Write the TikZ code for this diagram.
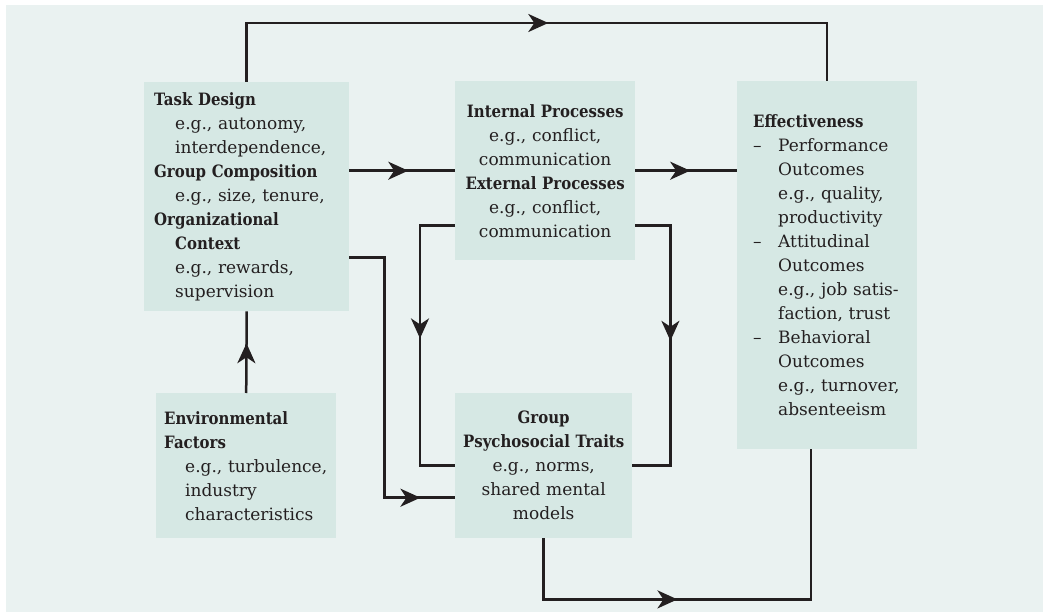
\documentclass[tikz,border=0pt]{standalone}
\usepackage{fontspec}
\setmainfont{DejaVu Serif}[BoldFeatures={FakeStretch=0.88}]
\usetikzlibrary{arrows.meta,decorations.markings}
\definecolor{bgback}{RGB}{234,242,241}
\definecolor{boxfill}{RGB}{214,232,228}
\definecolor{ink}{RGB}{35,31,32}
\begin{document}
\begin{tikzpicture}[x=1pt,y=-1pt,
  box/.style={fill=boxfill,anchor=north west,inner xsep=10pt,inner ysep=0pt,
    font=\fontsize{17}{24}\selectfont,text=ink},
  arr/.style={line width=2.5pt,color=ink,
    decoration={markings,mark=at position #1 with {\arrow{Stealth[length=20pt,width=18pt,inset=6pt]}}},
    postaction={decorate}}]
\useasboundingbox (0,0) rectangle (1043,612);
\fill [bgback] (6,5) rectangle (1043,612);

\node (task) at (144,82) [box,text width=185pt,minimum height=229pt,align=left]
  {\textbf{Task Design}\\ \hspace*{21pt}e.g., autonomy,\\ \hspace*{21pt}interdependence,\\
   \textbf{Group Composition}\\ \hspace*{21pt}e.g., size, tenure,\\ \textbf{Organizational}\\
   \hspace*{21pt}\textbf{Context}\\ \hspace*{21pt}e.g., rewards,\\ \hspace*{21pt}supervision};
\node (proc) at (455,81) [box,inner xsep=4pt,text width=172pt,minimum height=179pt,align=center]
  {\textbf{Internal Processes}\\ e.g., conflict,\\ communication\\
   \textbf{External Processes}\\ e.g., conflict,\\ communication};
\node (eff) at (737,81) [box,inner xsep=16pt,text width=148pt,minimum height=368pt,align=left]
  {\textbf{Effectiveness}\\
   \makebox[25pt][l]{–}Performance\\ \hspace*{25pt}Outcomes\\ \hspace*{25pt}e.g., quality,\\ \hspace*{25pt}productivity\\
   \makebox[25pt][l]{–}Attitudinal\\ \hspace*{25pt}Outcomes\\ \hspace*{25pt}e.g., job satis-\\ \hspace*{25pt}faction, trust\\
   \makebox[25pt][l]{–}Behavioral\\ \hspace*{25pt}Outcomes\\ \hspace*{25pt}e.g., turnover,\\ \hspace*{25pt}absenteeism};
\node (env) at (156,393) [box,inner xsep=8pt,text width=164pt,minimum height=145pt,align=left]
  {\textbf{Environmental}\\ \textbf{Factors}\\ \hspace*{21pt}e.g., turbulence,\\
   \hspace*{21pt}industry\\ \hspace*{21pt}characteristics};
\node (grp) at (455,393) [box,inner xsep=4pt,text width=169pt,minimum height=145pt,align=center]
  {\textbf{Group}\\ \textbf{Psychosocial Traits}\\ e.g., norms,\\ shared mental\\ models};

\draw [arr=0.517] (task.north) -- ++(0,-59) -| (eff.north);
\draw [arr=0.557] (proc.west -| task.east) -- (proc.west);
\draw [arr=0.539] (proc.east) -- (proc.east -| eff.west);
\draw [arr=0.477] ([yshift=35pt]proc.south west) -- ++(-35,0) |- (grp.west);
\draw [arr=0.48] ([yshift=35pt]proc.south east) -- ++(35,0) |- (grp.east);
\draw [arr=0.9] ([yshift=54pt]task.south east) -- ++(35,0) |- ([yshift=-32pt]grp.west);
\draw [arr=0.61] (env.north) -- (task.south);
\draw [arr=0.407] (grp.south) -- ++(0,61) -| ([xshift=-16pt]eff.south);
\end{tikzpicture}
\end{document}
